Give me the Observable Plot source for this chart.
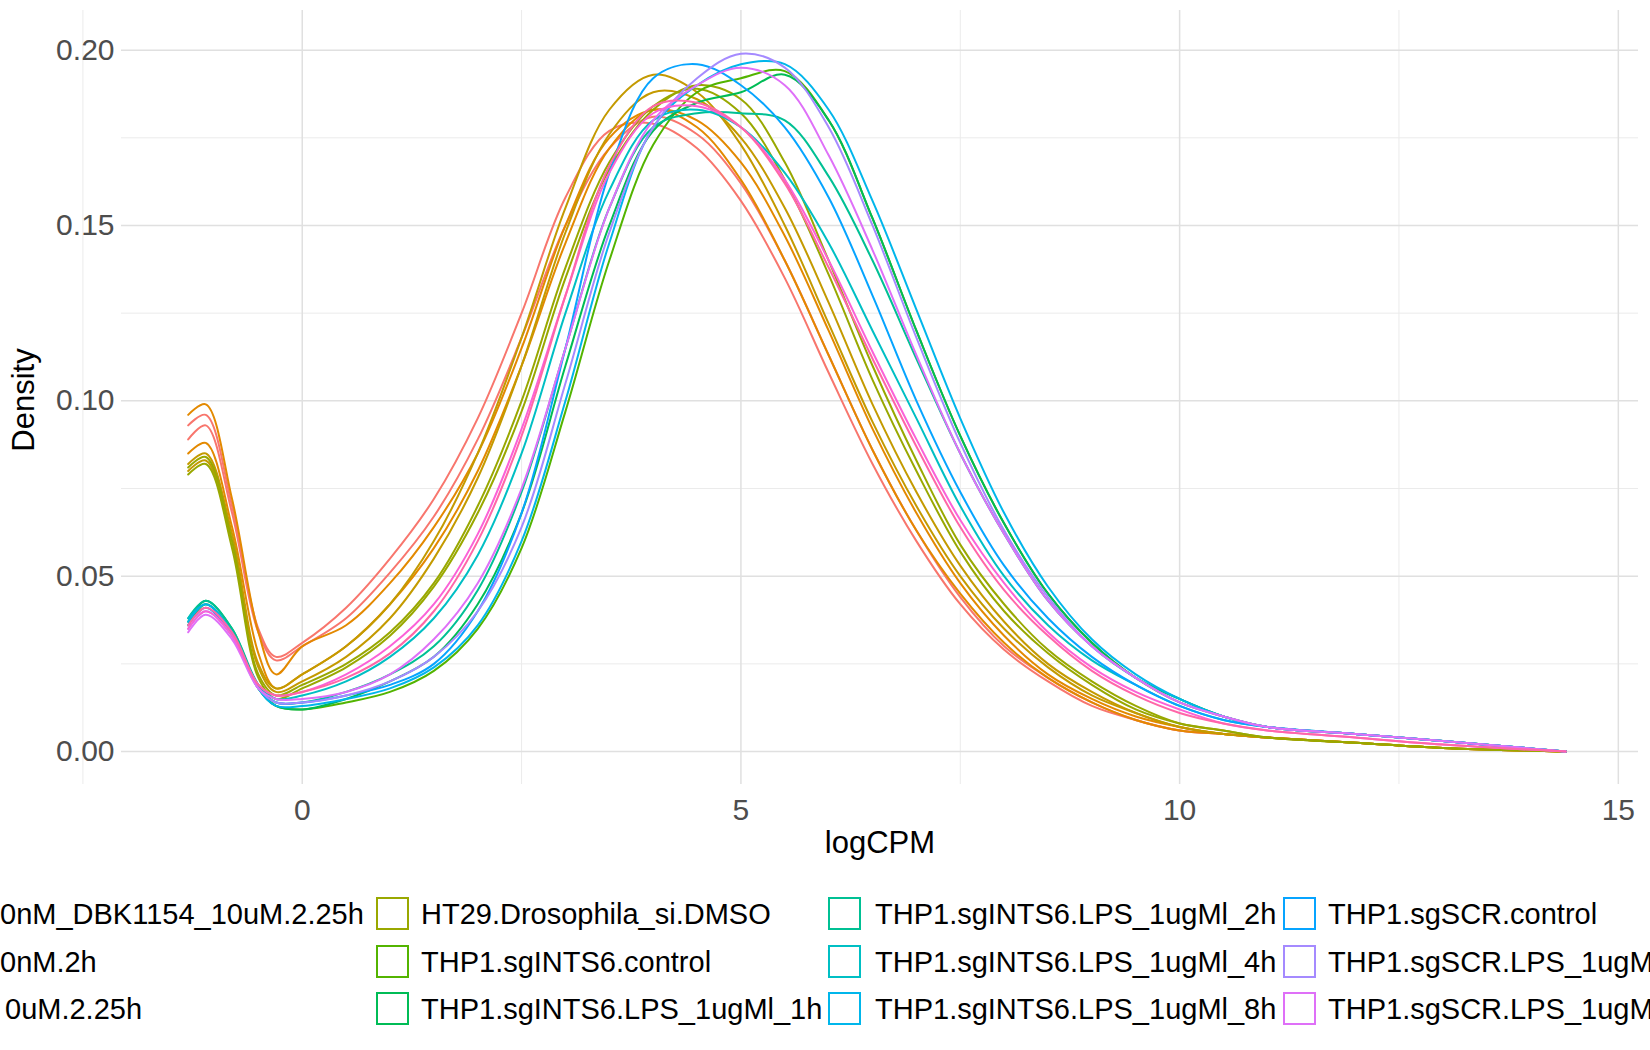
<!DOCTYPE html>
<html><head><meta charset="utf-8">
<script src="https://cdn.jsdelivr.net/npm/d3@7"></script>
<script src="https://cdn.jsdelivr.net/npm/@observablehq/plot@0.6"></script>
<style>
html,body{margin:0;overflow:hidden}
#wrap{width:1650px;height:1050px;overflow:hidden;background:#fff;font-family:"Liberation Sans",Arial,sans-serif;position:relative}
#chart{position:absolute;left:0;top:0}
.lg{position:absolute;font-size:29px;color:#000;white-space:nowrap;line-height:34px}
.key{position:absolute;width:33px;height:33px;border:2px solid;box-sizing:border-box}
</style></head><body>
<div id="wrap"><div id="chart"></div></div>
<script>
const xs = [-1.3,-1.1,-0.8,-0.5,-0.3,0,0.5,1,1.5,2,2.5,3,3.5,4,4.5,5,5.5,6,6.5,7,7.5,8,8.5,9,9.5,10,10.5,11,12,13,14.4];
const seriesNames = ["HT29.DMSO_10nM_DBK1154_10uM.2.25h","HT29.DMSO_10nM.2h","HT29.DBK1154_10uM.2.25h","HT29.Drosophila_si.DMSO",
 "THP1.sgINTS6.control","THP1.sgINTS6.LPS_1ugMl_1h","THP1.sgINTS6.LPS_1ugMl_2h","THP1.sgINTS6.LPS_1ugMl_4h","THP1.sgINTS6.LPS_1ugMl_8h",
 "THP1.sgSCR.control","THP1.sgSCR.LPS_1ugMl_1h","THP1.sgSCR.LPS_1ugMl_2h","THP1.sgSCR.LPS_1ugMl_4h","THP1.sgSCR.LPS_1ugMl_8h"];
const colors = ["#F8766D","#E38900","#C49A00","#99A800","#53B400","#00BC56","#00C094","#00BFC4","#00B6EB","#06A4FF","#A58AFF","#DF70F8","#FB61D7","#FF66A8"];
const lines = [
 [0,[0.093,0.096,0.070,0.035,0.027,0.031,0.041,0.055,0.072,0.095,0.125,0.158,0.177,0.179,0.172,0.157,0.135,0.108,0.082,0.060,0.042,0.029,0.020,0.013,0.009,0.006,0.005,0.004,0.0025,0.001,0]],
 [0,[0.089,0.093,0.068,0.034,0.026,0.030,0.038,0.051,0.067,0.089,0.118,0.150,0.172,0.181,0.176,0.162,0.140,0.113,0.086,0.063,0.044,0.030,0.021,0.014,0.009,0.006,0.005,0.004,0.0025,0.001,0]],
 [1,[0.096,0.099,0.072,0.034,0.022,0.030,0.036,0.048,0.064,0.085,0.115,0.150,0.175,0.183,0.180,0.168,0.147,0.120,0.092,0.068,0.048,0.033,0.022,0.015,0.010,0.007,0.005,0.004,0.0025,0.001,0]],
 [1,[0.085,0.088,0.064,0.028,0.018,0.022,0.030,0.042,0.058,0.080,0.110,0.145,0.172,0.183,0.178,0.163,0.140,0.113,0.086,0.063,0.045,0.031,0.021,0.014,0.009,0.006,0.005,0.004,0.0025,0.001,0]],
 [2,[0.082,0.085,0.062,0.025,0.018,0.022,0.030,0.042,0.060,0.085,0.118,0.155,0.183,0.193,0.188,0.173,0.150,0.122,0.094,0.070,0.050,0.035,0.024,0.016,0.011,0.007,0.005,0.004,0.0025,0.001,0]],
 [2,[0.080,0.083,0.060,0.024,0.017,0.020,0.027,0.038,0.055,0.078,0.110,0.148,0.176,0.188,0.186,0.175,0.155,0.128,0.099,0.074,0.053,0.037,0.025,0.017,0.011,0.007,0.005,0.004,0.0025,0.001,0]],
 [3,[0.081,0.084,0.060,0.022,0.016,0.019,0.025,0.034,0.048,0.070,0.100,0.138,0.168,0.184,0.189,0.182,0.163,0.136,0.106,0.080,0.057,0.040,0.028,0.019,0.012,0.008,0.006,0.004,0.0025,0.001,0]],
 [3,[0.079,0.082,0.058,0.021,0.015,0.018,0.024,0.033,0.047,0.068,0.097,0.135,0.166,0.183,0.190,0.186,0.168,0.140,0.110,0.083,0.059,0.042,0.029,0.020,0.013,0.008,0.006,0.004,0.0025,0.001,0]],
 [4,[0.036,0.042,0.034,0.018,0.013,0.012,0.014,0.017,0.023,0.035,0.058,0.097,0.140,0.173,0.188,0.192,0.194,0.180,0.152,0.120,0.090,0.065,0.045,0.031,0.021,0.014,0.010,0.007,0.005,0.003,0]],
 [5,[0.037,0.043,0.035,0.018,0.013,0.012,0.015,0.020,0.027,0.042,0.068,0.110,0.150,0.177,0.185,0.188,0.193,0.180,0.152,0.120,0.090,0.065,0.045,0.031,0.021,0.015,0.010,0.007,0.005,0.003,0]],
 [6,[0.038,0.043,0.035,0.019,0.014,0.014,0.017,0.022,0.030,0.046,0.074,0.115,0.155,0.178,0.182,0.182,0.180,0.164,0.140,0.112,0.085,0.062,0.043,0.030,0.021,0.015,0.010,0.007,0.005,0.003,0]],
 [7,[0.038,0.042,0.034,0.019,0.015,0.016,0.020,0.027,0.038,0.056,0.085,0.125,0.160,0.180,0.183,0.178,0.165,0.145,0.120,0.095,0.070,0.050,0.036,0.026,0.019,0.013,0.009,0.007,0.005,0.003,0]],
 [8,[0.037,0.042,0.034,0.018,0.013,0.013,0.015,0.018,0.024,0.036,0.060,0.100,0.145,0.178,0.190,0.196,0.196,0.183,0.157,0.126,0.095,0.068,0.047,0.032,0.022,0.015,0.010,0.007,0.005,0.003,0]],
 [9,[0.036,0.041,0.033,0.018,0.014,0.014,0.016,0.019,0.025,0.040,0.068,0.115,0.165,0.192,0.196,0.190,0.178,0.158,0.130,0.100,0.074,0.053,0.038,0.027,0.019,0.013,0.009,0.007,0.005,0.003,0]],
 [10,[0.035,0.040,0.033,0.018,0.014,0.014,0.016,0.020,0.027,0.040,0.064,0.105,0.148,0.178,0.192,0.199,0.195,0.178,0.150,0.118,0.088,0.063,0.044,0.030,0.021,0.014,0.010,0.007,0.005,0.003,0]],
 [11,[0.034,0.039,0.032,0.018,0.015,0.015,0.017,0.022,0.032,0.048,0.075,0.115,0.155,0.180,0.190,0.195,0.190,0.170,0.143,0.113,0.085,0.062,0.043,0.030,0.021,0.014,0.010,0.007,0.005,0.003,0]],
 [12,[0.035,0.040,0.033,0.019,0.016,0.017,0.022,0.030,0.042,0.062,0.092,0.130,0.165,0.182,0.184,0.178,0.163,0.140,0.114,0.089,0.066,0.048,0.034,0.024,0.017,0.012,0.008,0.006,0.004,0.002,0]],
 [13,[0.036,0.041,0.034,0.019,0.016,0.017,0.021,0.028,0.040,0.060,0.090,0.130,0.167,0.184,0.185,0.178,0.162,0.138,0.112,0.087,0.064,0.046,0.033,0.023,0.016,0.011,0.008,0.006,0.004,0.002,0]]
];
const xMajor=[0,5,10,15], xMinor=[-2.5,2.5,7.5,12.5];
const yMajor=[0,0.05,0.10,0.15,0.20], yMinor=[0.025,0.075,0.125,0.175];

const data=[];
lines.forEach(([s,vals],li)=>vals.forEach((v,i)=>data.push({line:li,series:seriesNames[s],x:xs[i],y:v})));

const plot=Plot.plot({
 width:1650,height:880,marginLeft:121,marginRight:12,marginTop:10,marginBottom:96,
 style:{fontFamily:"Liberation Sans, Arial, sans-serif",fontSize:"30px",background:"#fff"},
 x:{domain:[-2.06,15.23]},
 y:{domain:[-0.0094,0.2113]},
 color:{domain:seriesNames,range:colors},
 marks:[
  Plot.ruleX(xMinor,{stroke:"#ebebeb",strokeWidth:1}),
  Plot.ruleY(yMinor,{stroke:"#ebebeb",strokeWidth:1}),
  Plot.ruleX(xMajor,{stroke:"#e0e0e0",strokeWidth:1.5}),
  Plot.ruleY(yMajor,{stroke:"#e0e0e0",strokeWidth:1.5}),
  Plot.axisX({ticks:xMajor,tickSize:0,tickPadding:14,fill:"#4d4d4d",fontSize:30,tickFormat:d=>String(d),label:null}),
  Plot.axisY({ticks:yMajor,tickSize:0,tickPadding:7,fill:"#4d4d4d",fontSize:30,tickFormat:d3.format(".2f"),label:null}),
  Plot.line(data,{x:"x",y:"y",z:"line",stroke:"series",strokeWidth:2,curve:"catmull-rom"})
 ]
});
document.getElementById("chart").appendChild(plot);
const svg=d3.select(plot);
svg.append("text").attr("x",880).attr("y",853).attr("text-anchor","middle").attr("font-size",31).attr("fill","#000").text("logCPM");
svg.append("text").attr("transform","translate(34,400) rotate(-90)").attr("text-anchor","middle").attr("font-size",31).attr("fill","#000").text("Density");

const wrap=document.getElementById("wrap");
const rowsY=[914,962,1009];
const keyX=[-78,376,828,1283], textX=[-33,421,875,1328];
const firstCol=["0nM_DBK1154_10uM.2.25h","0nM.2h","0uM.2.25h"];
seriesNames.forEach((n,i)=>{
 const c=Math.floor(i/3), r=i%3;
 if(c>3) return; // beyond the right edge of the page
 if(c>0){
  const k=document.createElement("div");k.className="key";
  k.style.left=keyX[c]+"px";k.style.top=(rowsY[r]-17)+"px";k.style.borderColor=colors[i];wrap.appendChild(k);
 }
 const t=document.createElement("div");t.className="lg";
 if(c===0){t.textContent=firstCol[r];t.style.left=(r===2?5:0)+"px";}
 else{t.textContent=n;t.style.left=textX[c]+"px";}
 t.style.top=(rowsY[r]-17)+"px";wrap.appendChild(t);
});
</script></body></html>
